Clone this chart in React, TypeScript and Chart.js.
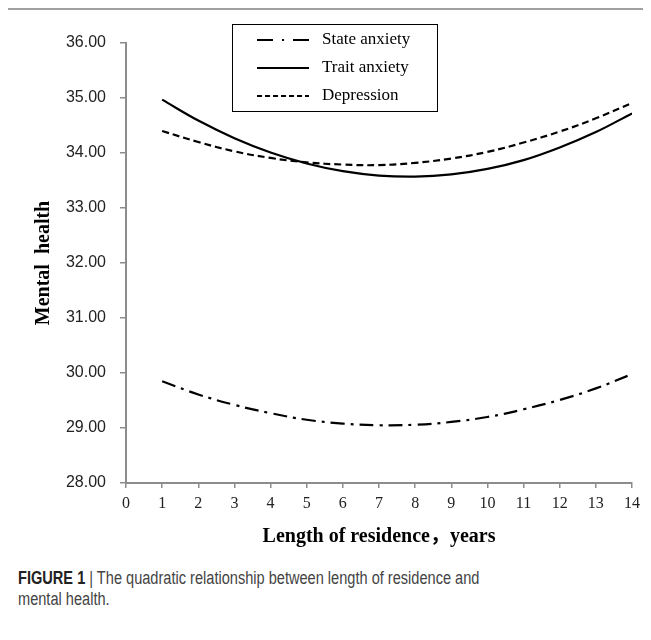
import React, { useEffect, useRef } from "react";
import { Chart, registerables } from "chart.js";

Chart.register(...registerables);

// ---- data ----
const years = [1, 2, 3, 4, 5, 6, 7, 8, 9, 10, 11, 12, 13, 14];
const stateAnxiety = [29.85, 29.61, 29.42, 29.27, 29.15, 29.08, 29.05, 29.06, 29.11, 29.2, 29.34, 29.51, 29.72, 29.98];
const traitAnxiety = [34.97, 34.59, 34.27, 34.01, 33.81, 33.67, 33.59, 33.57, 33.61, 33.71, 33.87, 34.1, 34.38, 34.72];
const depression = [34.4, 34.2, 34.03, 33.91, 33.83, 33.79, 33.78, 33.82, 33.9, 34.02, 34.19, 34.39, 34.63, 34.91];
const seriesNames = ["State anxiety", "Trait anxiety", "Depression"];
const xRange = [0, 14];
const yRange = [28, 36];
const xTitle = "Length of residence，years";
const yTitle = "Mental  health";
const captionBold = "FIGURE 1";
const captionLine1 = " | The quadratic relationship between length of residence and";
const captionLine2 = "mental health.";

const W = 642;
const H = 548;
const AXIS_GRAY = "#8c8c8c";

const boxLegend = {
  id: "boxLegend",
  afterDraw(chart: any) {
    const ctx = chart.ctx;
    ctx.save();
    const bx = 224.5, by = 14.5, bw = 205, bh = 87;
    ctx.fillStyle = "#fff";
    ctx.fillRect(bx, by, bw, bh);
    ctx.strokeStyle = "#000";
    ctx.lineWidth = 1;
    ctx.setLineDash([]);
    ctx.strokeRect(bx, by, bw, bh);
    const rows = [30, 58, 86];
    chart.data.datasets.forEach((ds: any, i: number) => {
      const y = rows[i];
      ctx.beginPath();
      ctx.setLineDash(ds.legendDash || ds.borderDash || []);
      ctx.lineWidth = ds.borderWidth;
      ctx.strokeStyle = ds.borderColor;
      ctx.moveTo(249, y);
      ctx.lineTo(301, y);
      ctx.stroke();
      ctx.setLineDash([]);
      ctx.fillStyle = "#000";
      ctx.font = "17px 'Liberation Serif', serif";
      ctx.textBaseline = "middle";
      ctx.textAlign = "left";
      ctx.fillText(ds.label, 314, y);
    });
    ctx.restore();
  },
};

export default function App() {
  const ref = useRef<HTMLCanvasElement | null>(null);

  useEffect(() => {
    if (!ref.current) return;
    const mk = (vals: number[]) => years.map((x, i) => ({ x, y: vals[i] }));
    const chart = new Chart(ref.current, {
      type: "line",
      data: {
        datasets: [
          {
            label: seriesNames[0],
            data: mk(stateAnxiety),
            borderColor: "#000",
            borderWidth: 2.2,
            borderDash: [14, 6, 3, 6],
            legendDash: [16, 9, 2, 9],
            pointRadius: 0,
            tension: 0.4,
            fill: false,
          } as any,
          {
            label: seriesNames[1],
            data: mk(traitAnxiety),
            borderColor: "#000",
            borderWidth: 2.2,
            borderDash: [],
            pointRadius: 0,
            tension: 0.4,
            fill: false,
          } as any,
          {
            label: seriesNames[2],
            data: mk(depression),
            borderColor: "#000",
            borderWidth: 2.2,
            borderDash: [7, 4],
            legendDash: [5, 3],
            pointRadius: 0,
            tension: 0.4,
            fill: false,
          } as any,
        ],
      },
      options: {
        responsive: false,
        animation: false,
        devicePixelRatio: 1,
        layout: { padding: { top: 33, right: 18, left: 0, bottom: 0 } },
        plugins: {
          legend: { display: false },
          tooltip: { enabled: false },
        },
        scales: {
          x: {
            type: "linear",
            min: xRange[0],
            max: xRange[1],
            afterFit: (s: any) => {
              s.height = 75;
            },
            border: { display: true, color: AXIS_GRAY, width: 2 },
            grid: {
              display: true,
              drawOnChartArea: false,
              drawTicks: true,
              tickLength: 5,
              color: AXIS_GRAY,
              lineWidth: 1.5,
            },
            ticks: {
              stepSize: 1,
              padding: 6,
              color: "#222",
              maxRotation: 0,
              autoSkip: false,
              font: { family: "'Liberation Serif', serif", size: 16 },
            },
            title: {
              display: true,
              text: xTitle,
              color: "#000",
              font: { family: "'Liberation Serif', 'Noto Sans CJK SC', serif", size: 20, weight: "bold" },
              padding: { top: 0, bottom: 9 },
            },
          },
          y: {
            type: "linear",
            min: yRange[0],
            max: yRange[1],
            afterFit: (s: any) => {
              s.width = 118;
            },
            border: { display: true, color: AXIS_GRAY, width: 2 },
            grid: {
              display: true,
              drawOnChartArea: false,
              drawTicks: true,
              tickLength: 6,
              color: AXIS_GRAY,
              lineWidth: 1.5,
            },
            ticks: {
              stepSize: 1,
              padding: 14,
              color: "#222",
              font: { family: "'Liberation Sans', Arial, sans-serif", size: 16 },
              callback: (v: any) => Number(v).toFixed(2),
            },
            title: {
              display: true,
              text: yTitle,
              color: "#000",
              font: { family: "'Liberation Serif', serif", size: 20, weight: "bold" },
              padding: { top: 24, bottom: 0 },
            },
          },
        },
      } as any,
      plugins: [boxLegend],
    });
    return () => chart.destroy();
  }, []);

  return (
    <div
      style={{
        borderLeft: "1px solid #a0a0a0",
        borderTop: "2px solid #a0a0a0",
        marginLeft: -1,
        width: 643,
        height: 640,
        boxSizing: "border-box",
        overflow: "hidden",
      }}
    >
      <div style={{ width: W, height: H, position: "relative" }}>
        <canvas ref={ref} width={W} height={H} style={{ display: "block", width: W, height: H }} />
      </div>
      <div
        style={{
          fontFamily: "'Liberation Sans', Arial, sans-serif",
          fontSize: 18,
          color: "#444",
          lineHeight: "21px",
          marginLeft: 10,
          marginTop: 10,
          whiteSpace: "nowrap",
          transform: "scaleX(0.81)",
          transformOrigin: "left top",
        }}
      >
        <span style={{ fontWeight: "bold", color: "#222" }}>{captionBold}</span>
        {captionLine1}
        <br />
        {captionLine2}
      </div>
    </div>
  );
}
